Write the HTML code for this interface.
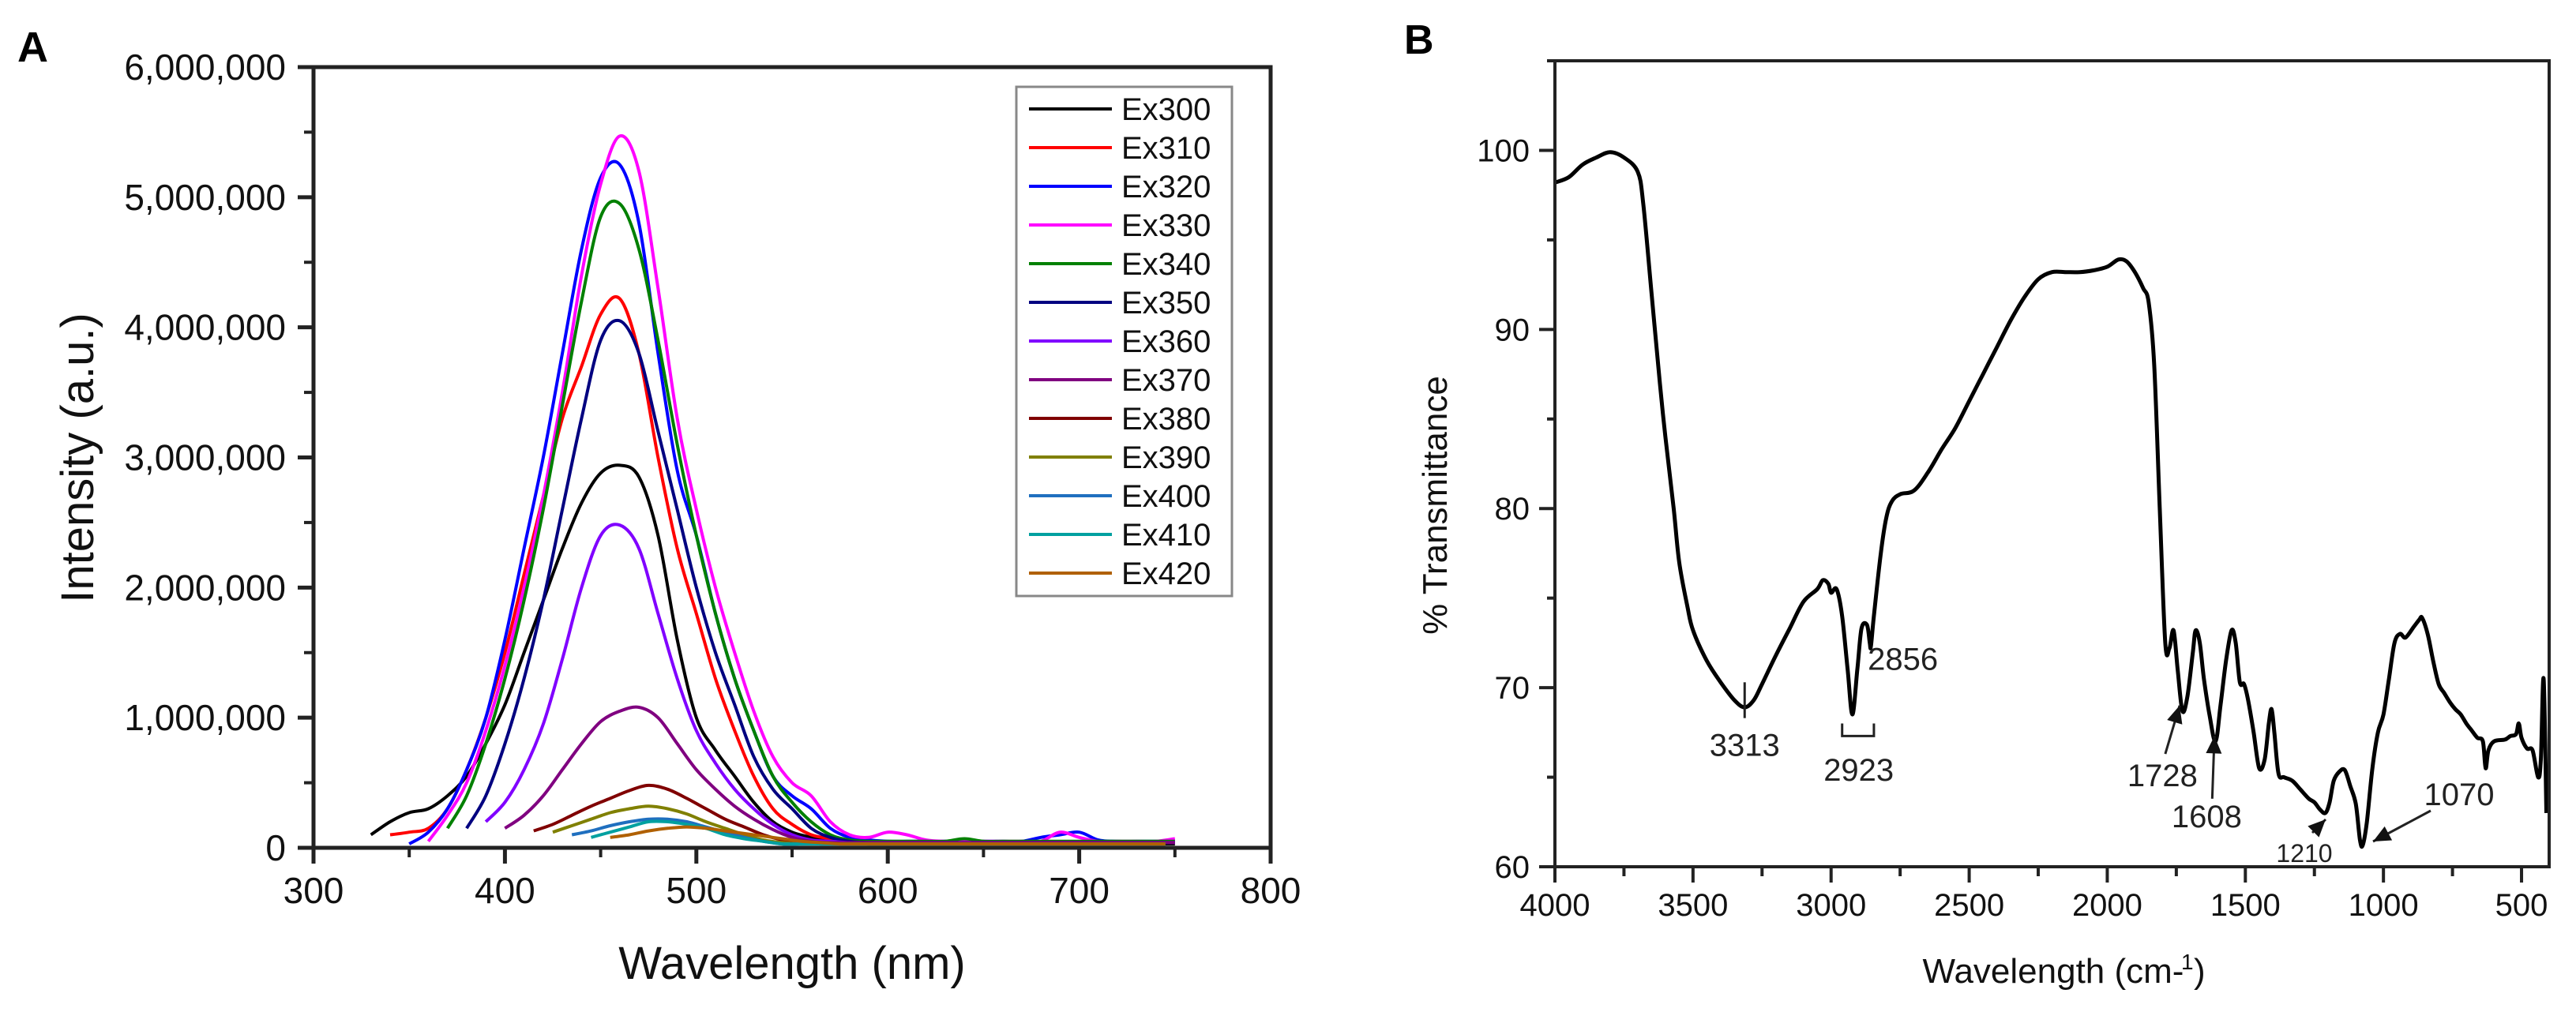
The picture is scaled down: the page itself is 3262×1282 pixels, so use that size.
<!DOCTYPE html>
<html><head><meta charset="utf-8">
<style>
html,body{margin:0;padding:0;background:#fff;}
svg{display:block;font-family:"Liberation Sans",Arial,sans-serif;}
</style></head>
<body>
<svg id="fig" width="3262" height="1282" viewBox="0 0 3262 1282" xmlns="http://www.w3.org/2000/svg">
<rect width="3262" height="1282" fill="#fff"/>
<text x="22" y="78" font-size="54" font-weight="bold">A</text>
<text x="1778" y="68" font-size="52" font-weight="bold">B</text>
<g id="A"></g>
<g id="B"></g>
</svg>
<script>
// ---------- Panel A data ----------
const seriesNames = ["Ex300","Ex310","Ex320","Ex330","Ex340","Ex350","Ex360","Ex370","Ex380","Ex390","Ex400","Ex410","Ex420"];
const seriesColors = ["#000000","#ff0000","#0000ff","#ff00ff","#008000","#000080","#8000ff","#800080","#800000","#808000","#1f6fbf","#00a0a0","#b06000"];
const seriesStart = [330,340,350,360,370,380,390,400,415,425,435,445,455];
const xTicksA = [300,400,500,600,700,800];
const yTicksA = [0,1000000,2000000,3000000,4000000,5000000,6000000];
const yTickLabelsA = ["0","1,000,000","2,000,000","3,000,000","4,000,000","5,000,000","6,000,000"];
// intensities in millions, step 10 nm from start
const ex300 = [0.1,0.2,0.27,0.3,0.4,0.55,0.8,1.1,1.5,1.9,2.3,2.65,2.88,2.94,2.85,2.4,1.6,1.0,0.75,0.55,0.35,0.2,0.12,0.08,0.05,0.04,0.03,0.03,0.03,0.03,0.03,0.03,0.03,0.03,0.03,0.03,0.03,0.03,0.03,0.03,0.03,0.03,0.03];
const ex310 = [0.1,0.12,0.15,0.3,0.6,1.0,1.5,2.1,2.7,3.3,3.7,4.1,4.22,3.8,3.0,2.3,1.8,1.3,0.9,0.55,0.3,0.18,0.1,0.07,0.05,0.04,0.04,0.04,0.04,0.04,0.04,0.04,0.04,0.04,0.04,0.04,0.04,0.04,0.04,0.04,0.04];
const ex320 = [0.03,0.12,0.3,0.6,1.0,1.6,2.3,3.0,3.8,4.6,5.15,5.25,4.8,3.8,2.9,2.4,1.8,1.3,0.9,0.55,0.4,0.3,0.15,0.08,0.06,0.05,0.05,0.05,0.05,0.05,0.05,0.05,0.05,0.08,0.1,0.12,0.06,0.05,0.05,0.05,0.05];
const ex330 = [0.05,0.25,0.5,0.9,1.4,2.0,2.7,3.5,4.4,5.1,5.47,5.2,4.3,3.3,2.6,2.0,1.5,1.05,0.7,0.5,0.4,0.2,0.1,0.08,0.12,0.1,0.06,0.05,0.05,0.05,0.05,0.05,0.05,0.12,0.08,0.05,0.05,0.05,0.05,0.07];
const ex340 = [0.15,0.4,0.8,1.3,1.9,2.6,3.4,4.2,4.85,4.95,4.6,3.9,3.1,2.4,1.8,1.3,0.9,0.55,0.35,0.2,0.1,0.06,0.05,0.05,0.05,0.05,0.05,0.07,0.05,0.05,0.05,0.05,0.05,0.05,0.05,0.05,0.05,0.05,0.05];
const ex350 = [0.15,0.4,0.8,1.3,1.9,2.6,3.3,3.9,4.05,3.8,3.2,2.6,2.0,1.5,1.1,0.7,0.45,0.3,0.15,0.08,0.05,0.04,0.04,0.04,0.04,0.04,0.04,0.04,0.04,0.04,0.04,0.04,0.04,0.04,0.04,0.04,0.04,0.04];
const ex360 = [0.2,0.35,0.6,0.95,1.45,2.0,2.4,2.48,2.3,1.8,1.3,0.9,0.65,0.45,0.3,0.18,0.1,0.06,0.05,0.04,0.04,0.04,0.04,0.04,0.04,0.04,0.04,0.04,0.04,0.04,0.04,0.04,0.04,0.04,0.04,0.04,0.04];
const ex370 = [0.15,0.25,0.4,0.6,0.8,0.97,1.05,1.08,1.0,0.8,0.6,0.45,0.32,0.22,0.14,0.08,0.05,0.04,0.04,0.04,0.04,0.04,0.04,0.04,0.04,0.04,0.04,0.04,0.04,0.04,0.04,0.04,0.04,0.04,0.04,0.04];
const ex380 = [0.13,0.18,0.25,0.32,0.38,0.44,0.48,0.45,0.38,0.3,0.22,0.16,0.1,0.06,0.04,0.03,0.03,0.03,0.03,0.03,0.03,0.03,0.03,0.03,0.03,0.03,0.03,0.03,0.03,0.03,0.03,0.03,0.03,0.03];
const ex390 = [0.12,0.17,0.22,0.27,0.3,0.32,0.3,0.26,0.2,0.15,0.1,0.06,0.04,0.03,0.03,0.03,0.03,0.03,0.03,0.03,0.03,0.03,0.03,0.03,0.03,0.03,0.03,0.03,0.03,0.03,0.03,0.03,0.03];
const ex400 = [0.1,0.13,0.17,0.2,0.22,0.22,0.2,0.16,0.12,0.08,0.05,0.03,0.03,0.03,0.03,0.03,0.03,0.03,0.03,0.03,0.03,0.03,0.03,0.03,0.03,0.03,0.03,0.03,0.03,0.03,0.03,0.03];
const ex410 = [0.08,0.12,0.16,0.2,0.2,0.18,0.15,0.1,0.07,0.05,0.03,0.03,0.03,0.03,0.03,0.03,0.03,0.03,0.03,0.03,0.03,0.03,0.03,0.03,0.03,0.03,0.03,0.03,0.03,0.03,0.03];
const ex420 = [0.08,0.1,0.13,0.15,0.16,0.15,0.13,0.11,0.09,0.07,0.05,0.04,0.03,0.03,0.03,0.03,0.03,0.03,0.03,0.03,0.03,0.03,0.03,0.03,0.03,0.03,0.03,0.03,0.03,0.03];
const seriesValues = [ex300,ex310,ex320,ex330,ex340,ex350,ex360,ex370,ex380,ex390,ex400,ex410,ex420];

// ---------- Panel B data ----------
const irWavenumber = [4000,3950,3900,3850,3800,3750,3700,3680,3650,3620,3600,3570,3550,3520,3500,3450,3400,3350,3313,3280,3250,3200,3150,3100,3050,3030,3010,3000,2980,2960,2940,2923,2905,2890,2870,2860,2856,2845,2820,2800,2780,2750,2700,2650,2600,2550,2500,2450,2400,2350,2300,2250,2200,2150,2100,2050,2000,1960,1930,1900,1870,1850,1830,1810,1790,1775,1760,1745,1728,1710,1690,1680,1665,1650,1630,1608,1590,1570,1550,1535,1520,1505,1490,1470,1450,1430,1415,1405,1395,1380,1360,1330,1300,1270,1250,1230,1210,1195,1180,1160,1140,1120,1100,1085,1075,1060,1040,1020,1000,980,960,940,920,890,870,860,840,820,800,780,760,740,720,700,680,660,640,630,620,600,560,540,520,510,500,480,460,440,430,420,410];
const irTransmittance = [98.2,98.5,99.2,99.6,99.9,99.6,98.8,97,92,87,84,80,77,74.5,73.2,71.5,70.3,69.3,68.9,69.3,70.2,71.8,73.3,74.8,75.5,76.0,75.8,75.3,75.5,74,71,68.5,71,73.3,73.5,72.5,72.3,74,77.5,79.5,80.4,80.8,81.0,82,83.3,84.5,86,87.5,89,90.5,91.8,92.8,93.2,93.2,93.2,93.3,93.5,93.9,93.8,93.2,92.3,91.5,88,80,72.5,72.2,73.2,71,68.7,69.5,72,73.2,72.5,70.5,68.5,67,69,71.5,73.2,72.5,70.3,70.2,69.3,67.5,65.5,66,68,68.8,67.5,65.2,65,64.8,64.3,63.8,63.6,63.2,63.0,63.6,64.8,65.3,65.4,64.5,63.5,61.5,61.2,62.5,65.5,67.5,68.5,70.5,72.5,73,72.8,73.4,73.8,73.9,73,71.5,70.2,69.7,69.2,68.8,68.5,68.0,67.6,67.2,67,65.5,66.5,67,67.1,67.3,67.4,68,67.2,66.6,66.5,65,66,70.5,63];
const xTicksB = [4000,3500,3000,2500,2000,1500,1000,500];
const yTicksB = [60,70,80,90,100];

const NS="http://www.w3.org/2000/svg";
function mk(parent,tag,attrs,text){const e=document.createElementNS(NS,tag);for(const k in attrs)e.setAttribute(k,attrs[k]);if(text!==undefined)e.textContent=text;parent.appendChild(e);return e;}
function smoothPath(pts){
  let d="M"+pts[0][0].toFixed(1)+","+pts[0][1].toFixed(1);
  for(let i=0;i<pts.length-1;i++){
    const p0=pts[Math.max(0,i-1)],p1=pts[i],p2=pts[i+1],p3=pts[Math.min(pts.length-1,i+2)];
    const c1=[p1[0]+(p2[0]-p0[0])/6,p1[1]+(p2[1]-p0[1])/6];
    const c2=[p2[0]-(p3[0]-p1[0])/6,p2[1]-(p3[1]-p1[1])/6];
    d+=" C"+c1[0].toFixed(1)+","+c1[1].toFixed(1)+" "+c2[0].toFixed(1)+","+c2[1].toFixed(1)+" "+p2[0].toFixed(1)+","+p2[1].toFixed(1);
  }
  return d;
}

// ---------- Panel A ----------
(function(){
  const g=document.getElementById("A");
  const L=397,R=1609,T=85,B=1074;
  const xA=v=>L+(v-300)/500*(R-L);
  const yA=v=>B-v/6000000*(B-T);
  seriesValues.forEach((vals,si)=>{
    const pts=vals.map((v,i)=>[xA(seriesStart[si]+i*10),yA(v*1e6)]);
    const p=mk(g,"path",{d:smoothPath(pts),fill:"none",stroke:seriesColors[si],"stroke-width":4,"stroke-linejoin":"round"});
    
    
  });
  const fr=mk(g,"rect",{x:L,y:T,width:R-L,height:B-T,fill:"none",stroke:"#222","stroke-width":5});
  
  
  xTicksA.forEach(v=>{
    mk(g,"line",{x1:xA(v),y1:B,x2:xA(v),y2:B+20,stroke:"#222","stroke-width":5});
    const t=mk(g,"text",{x:xA(v),y:B+70,"font-size":46,"text-anchor":"middle",fill:"#111"},String(v));
    
    
  });
  for(let v=350;v<800;v+=100) mk(g,"line",{x1:xA(v),y1:B,x2:xA(v),y2:B+12,stroke:"#222","stroke-width":4});
  yTicksA.forEach((v,i)=>{
    mk(g,"line",{x1:L-20,y1:yA(v),x2:L,y2:yA(v),stroke:"#222","stroke-width":5});
    const t=mk(g,"text",{x:L-35,y:yA(v)+16,"font-size":46,"text-anchor":"end",fill:"#111"},yTickLabelsA[i]);
    
    
  });
  for(let v=500000;v<6000000;v+=1000000) mk(g,"line",{x1:L-12,y1:yA(v),x2:L,y2:yA(v),stroke:"#222","stroke-width":4});
  const xt=mk(g,"text",{x:(L+R)/2,y:1240,"font-size":58,"text-anchor":"middle",fill:"#111"},"Wavelength (nm)");
  
  
  const yt=mk(g,"text",{x:0,y:0,"font-size":58,"text-anchor":"middle",fill:"#111",transform:"translate(118,580) rotate(-90)"},"Intensity (a.u.)");
  
  
  const lg=mk(g,"g",{});
  
  
  mk(lg,"rect",{x:1287,y:110,width:273,height:645,fill:"#fff",stroke:"#888","stroke-width":3});
  seriesNames.forEach((n,i)=>{
    const y=138+i*49;
    const e=mk(lg,"g",{});
    
    
    mk(e,"line",{x1:1303,y1:y,x2:1408,y2:y,stroke:seriesColors[i],"stroke-width":4});
    mk(e,"text",{x:1420,y:y+14,"font-size":40,fill:"#111"},n);
  });
})();

// ---------- Panel B ----------
(function(){
  const g=document.getElementById("B");
  const L=1969,R=3228,T=77,B=1098;
  const xB=v=>L+(4000-v)/3600*(R-L);
  const yB=v=>B-(v-60)/45*(B-T);
  const pts=irWavenumber.map((w,i)=>[xB(w),yB(irTransmittance[i])]);
  const p=mk(g,"path",{d:smoothPath(pts),fill:"none",stroke:"#000","stroke-width":5,"stroke-linejoin":"round"});
  
  
  const fr=mk(g,"rect",{x:L,y:T,width:R-L,height:B-T,fill:"none",stroke:"#222","stroke-width":4});
  
  
  xTicksB.forEach(v=>{
    mk(g,"line",{x1:xB(v),y1:B,x2:xB(v),y2:B+20,stroke:"#222","stroke-width":4});
    const t=mk(g,"text",{x:xB(v),y:B+62,"font-size":40,"text-anchor":"middle",fill:"#111"},String(v));
    
    
  });
  for(let v=3750;v>400;v-=500) mk(g,"line",{x1:xB(v),y1:B,x2:xB(v),y2:B+12,stroke:"#222","stroke-width":4});
  yTicksB.forEach(v=>{
    mk(g,"line",{x1:L-20,y1:yB(v),x2:L,y2:yB(v),stroke:"#222","stroke-width":4});
    const t=mk(g,"text",{x:L-32,y:yB(v)+14,"font-size":40,"text-anchor":"end",fill:"#111"},String(v));
    
    
  });
  for(let v=65;v<=105;v+=10) mk(g,"line",{x1:L-10,y1:yB(v),x2:L,y2:yB(v),stroke:"#222","stroke-width":4});
  const xt=mk(g,"text",{x:2600,y:1245,"font-size":44,"text-anchor":"middle",fill:"#111"},"Wavelength (cm-");
  
  
  mk(g,"text",{x:2762,y:1228,"font-size":28,fill:"#111"},"1");
  mk(g,"text",{x:2778,y:1245,"font-size":44,fill:"#111"},")");
  const yt=mk(g,"text",{x:0,y:0,"font-size":44,"text-anchor":"middle",fill:"#111",transform:"translate(1832,640) rotate(-90)"},"% Transmittance");
  
  
  const an=mk(g,"g",{"font-size":40,fill:"#222"});
  
  
  function lab(t,x,y,fs){const e=mk(an,"text",{x:x,y:y,"text-anchor":"middle","font-size":fs||40},t);}
  function arrow(x1,y1,x2,y2){
    mk(an,"line",{x1:x1,y1:y1,x2:x2,y2:y2,stroke:"#222","stroke-width":3});
    const a=Math.atan2(y2-y1,x2-x1),s=22,w=10;
    const bx=x2-s*Math.cos(a),by=y2-s*Math.sin(a);
    mk(an,"polygon",{points:`${x2},${y2} ${bx-w*Math.sin(a)},${by+w*Math.cos(a)} ${bx+w*Math.sin(a)},${by-w*Math.cos(a)}`,fill:"#111"});
  }
  mk(an,"line",{x1:xB(3313),y1:yB(70.3),x2:xB(3313),y2:yB(68.3),stroke:"#222","stroke-width":3});
  lab("3313",xB(3313),yB(66.2));
  mk(an,"polyline",{points:`${xB(2960)},${yB(68)} ${xB(2960)},${yB(67.3)} ${xB(2845)},${yB(67.3)} ${xB(2845)},${yB(68)}`,fill:"none",stroke:"#222","stroke-width":3});
  lab("2923",xB(2900),yB(64.8));
  lab("2856",xB(2740),yB(71));
  lab("1728",xB(1800),yB(64.5));
  arrow(xB(1790),yB(66.3),xB(1738),yB(69));
  lab("1608",xB(1640),yB(62.2));
  arrow(xB(1620),yB(63.8),xB(1612),yB(67.3));
  lab("1210",2918,1092,32);
  arrow(2928,1055,2945,1038);
  lab("1070",3114,1020);
  arrow(3078,1027,3005,1066);
})();
</script>
</body></html>
